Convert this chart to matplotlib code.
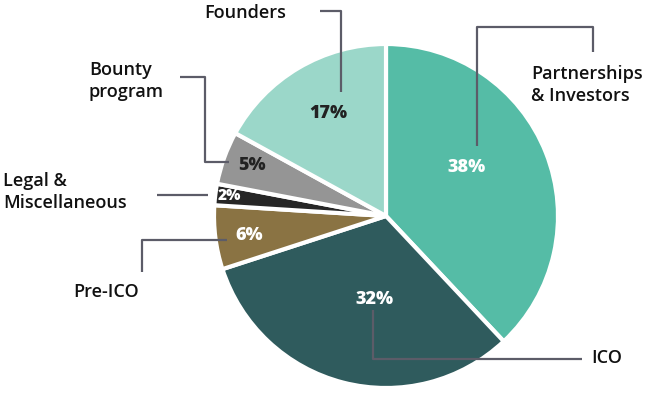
import matplotlib
matplotlib.use('Agg')
import matplotlib.pyplot as plt

# data, clockwise from 12 o'clock
labels = ['Partnerships\n& Investors', 'ICO', 'Pre-ICO', 'Legal &\nMiscellaneous', 'Bounty\nprogram', 'Founders']
shares = [38, 32, 6, 2, 5, 17]
colors = ['#55bca6', '#2f5b5d', '#8a7343', '#262626', '#959595', '#9bd7c9']
pct_colors = ['white', 'white', 'white', 'white', '#222222', '#222222']

H = 393
fig = plt.figure(figsize=(6.49, 3.93), dpi=100)
ax = fig.add_axes([0, 0, 1, 1])

cx, cy, r = 386, H - 216, 172
ax.pie(shares, colors=colors, startangle=90, counterclock=False,
       center=(cx, cy), radius=r, frame=True,
       wedgeprops=dict(edgecolor='white', linewidth=3))
ax.set_xlim(0, 649)
ax.set_ylim(0, H)
ax.set_aspect('equal')
ax.axis('off')

# percentage labels (pixel positions, y from top)
pct_pos = [(467, 168), (374, 299), (249, 236), (229, 196), (252, 166), (328, 113)]
pct_size = [13, 13, 13, 11, 13, 13]
for s, (x, y), c, fs in zip(shares, pct_pos, pct_colors, pct_size):
    ax.text(x, H - y, '%d%%' % s, ha='center', va='center', color=c,
            fontsize=fs, fontweight=800, family='Open Sans')

lc = '#5c5c68'
def leader(pts):
    xs = [p[0] for p in pts]
    ys = [H - p[1] for p in pts]
    ax.plot(xs, ys, color=lc, lw=1.6, solid_capstyle='butt')

leader([(320, 11), (341, 11), (341, 92)])
leader([(477, 146), (477, 27), (593, 27), (593, 52)])
leader([(180, 77), (205, 77), (205, 162), (229, 162)])
leader([(157, 195), (208, 195)])
leader([(142, 272), (142, 240), (227, 240)])
leader([(373, 310), (373, 359), (582, 359)])

tk = dict(fontsize=13, fontweight=600, family='Open Sans', color='#111111', linespacing=1.3)
ax.text(204, H - 13, 'Founders', ha='left', va='center', **tk)
ax.text(531, H - 85, labels[0], ha='left', va='center', **tk)
ax.text(89, H - 81, labels[4], ha='left', va='center', **tk)
ax.text(3, H - 192, labels[3], ha='left', va='center', **tk)
ax.text(73, H - 292, labels[2], ha='left', va='center', **tk)
ax.text(591, H - 358, labels[1], ha='left', va='center', **tk)

plt.savefig('out.png', dpi=100)
